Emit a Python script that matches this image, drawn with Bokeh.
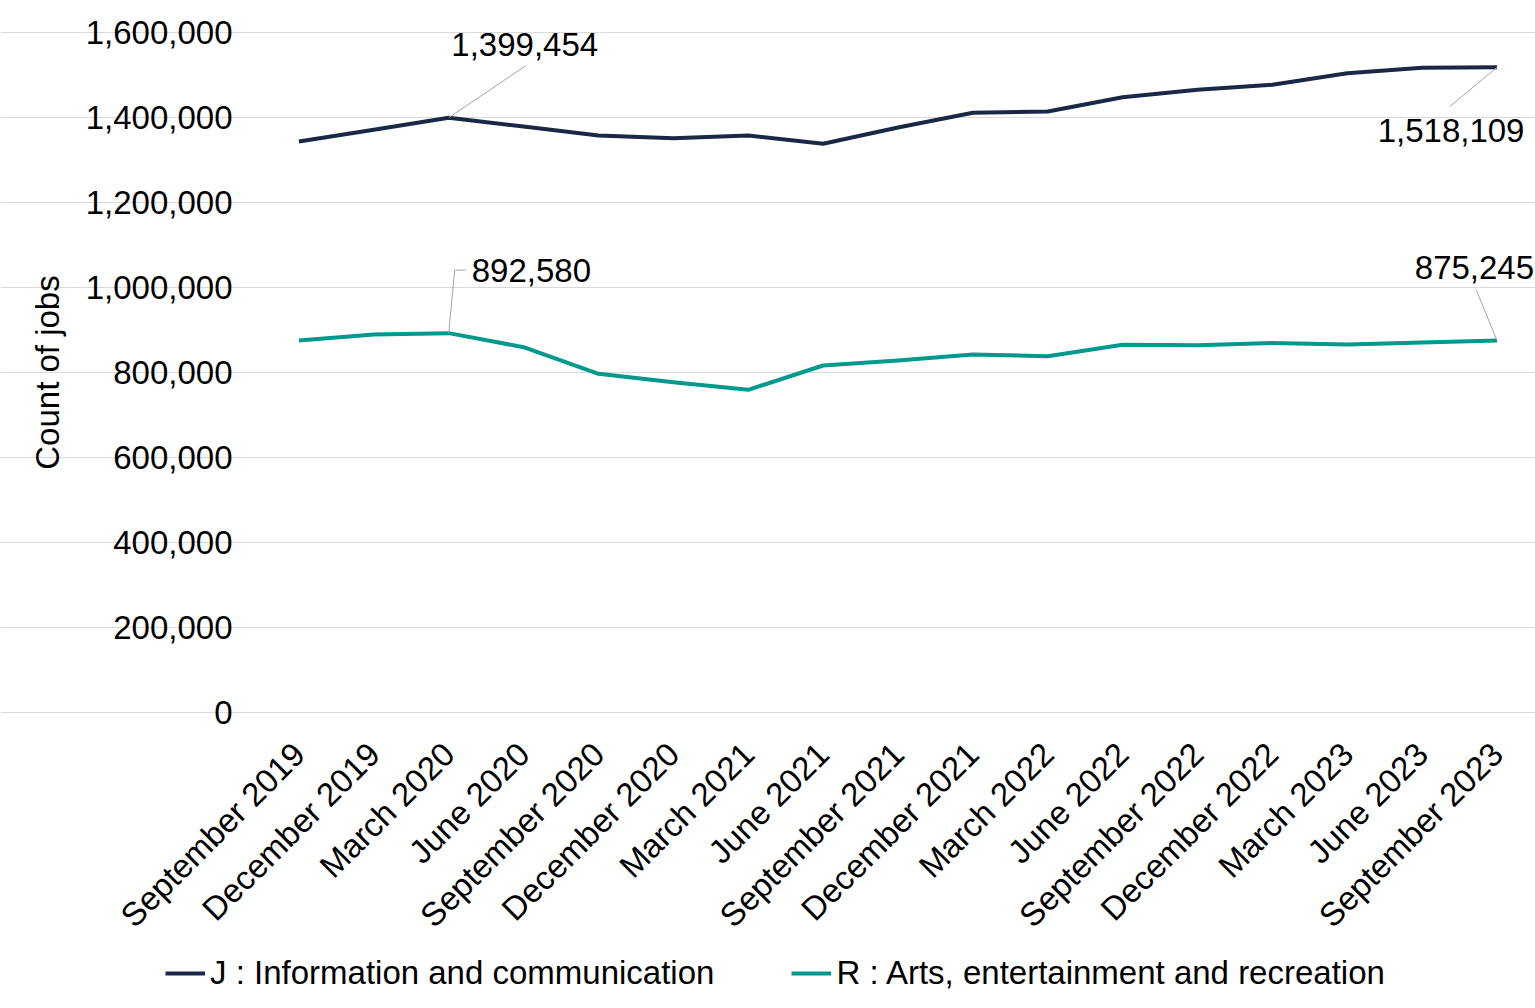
import math
from bokeh.plotting import figure
from bokeh.models import (ColumnDataSource, FixedTicker, Legend, LegendItem,
                          Range1d)
from bokeh.embed import file_html
from bokeh.resources import INLINE
from bokeh.core.properties import value

# ---------------- data ----------------
quarters = ["September 2019", "December 2019", "March 2020", "June 2020",
            "September 2020", "December 2020", "March 2021", "June 2021",
            "September 2021", "December 2021", "March 2022", "June 2022",
            "September 2022", "December 2022", "March 2023", "June 2023",
            "September 2023"]
info_comm = [1343500, 1371000, 1399454, 1378800, 1357600, 1351300, 1357600,
             1338100, 1376500, 1411000, 1414100, 1447800, 1465100, 1477000,
             1504300, 1516900, 1518109]
arts_rec = [875300, 889400, 892580, 859600, 796900, 777300, 759200,
            816500, 828200, 842400, 838400, 865100, 864400, 869400,
            865900, 870600, 875245]
y_ticks = [0, 200000, 400000, 600000, 800000, 1000000, 1200000, 1400000, 1600000]
y_title = "Count of jobs"
series_names = ["J : Information and communication",
                "R : Arts, entertainment and recreation"]
series_colors = ["#1b2845", "#00998c"]

FONT = "Liberation Sans"
FS = "33px"
TXT = "#000000"

# ---------------- layout (pixels) ----------------
n = len(quarters)
idx = list(range(n))
PLOT_W, PLOT_H = 1273, 680     # data band
LEFT, RIGHT = 261, 1           # space left / right of the data band
TOP, BELOW = 32, 296           # space above / below the data band
Y_MAX = y_ticks[-1]
PX_X = PLOT_W / n
PX_Y = PLOT_H / Y_MAX

X0, X1 = -0.5, n - 0.5
p = figure(frame_width=LEFT + PLOT_W + RIGHT, frame_height=TOP + PLOT_H + BELOW,
           x_range=Range1d(X0 - LEFT / PX_X, X1 + RIGHT / PX_X),
           y_range=Range1d(y_ticks[0] - BELOW / PX_Y, Y_MAX + TOP / PX_Y),
           x_axis_location=None, y_axis_location=None,
           output_backend="svg", toolbar_location=None,
           min_border_left=0, min_border_right=0,
           min_border_top=0, min_border_bottom=0,
           background_fill_color="white", border_fill_color="white")
p.outline_line_color = None

p.xgrid.grid_line_color = None
p.ygrid.ticker = FixedTicker(ticks=y_ticks)
p.ygrid.bounds = (X0, X1)
p.ygrid.grid_line_color = "#d9d9d9"
p.ygrid.grid_line_width = 1

text_style = dict(text_font=value(FONT), text_font_size=FS, text_color=TXT)

# y tick labels
p.text(x=[X0 - 29 / PX_X] * len(y_ticks), y=y_ticks,
       text=[f"{t:,}" for t in y_ticks],
       text_align="right", text_baseline="middle", **text_style)

# y axis title
p.text(x=[X0 - (LEFT - 47) / PX_X], y=[(y_ticks[0] + Y_MAX) / 2],
       text=[y_title], angle=math.pi / 2,
       text_align="center", text_baseline="middle", **text_style)

# category labels, rotated 45 degrees
p.text(x=idx, y=[y_ticks[0] - 36 / PX_Y] * n, text=quarters,
       angle=math.pi / 4, text_align="right", text_baseline="middle",
       **text_style)

# lines
src = ColumnDataSource(dict(x=idx, j=info_comm, r=arts_rec))
rj = p.line("x", "j", source=src, line_color=series_colors[0], line_width=4,
            line_join="round")
rr = p.line("x", "r", source=src, line_color=series_colors[1], line_width=4,
            line_join="round")


def off(i, v, dx, dy):
    """data point shifted by dx (right) / dy (up) pixels"""
    return i + dx / PX_X, v + dy / PX_Y


# data labels with leader lines
callouts = [
    # (index, series values, leader pixel path, label pixel pos, align)
    (2, info_comm, [(0, 0), (77, 52)], (76, 73), "center"),
    (n - 1, info_comm, [(0, 0), (-47, -39)], (-46, -63), "center"),
    (2, arts_rec, [(0, 0), (6, 63), (17, 63)], (23, 63), "left"),
    (n - 1, arts_rec, [(0, 0), (-21, 51)], (37, 73), "right"),
]
lx, ly, tx, ty, tt, ta = [], [], [], [], [], []
for i, vals, path, lab, align in callouts:
    v = vals[i]
    pts = [off(i, v, dx, dy) for dx, dy in path]
    lx.append([q[0] for q in pts])
    ly.append([q[1] for q in pts])
    x_, y_ = off(i, v, *lab)
    tx.append(x_)
    ty.append(y_)
    tt.append(f"{v:,}")
    ta.append(align)

p.multi_line(lx, ly, line_color="#a6a6a6", line_width=1)
p.text(x=tx, y=ty, text=tt, text_align=ta, text_baseline="middle",
       **text_style)

legend = Legend(items=[LegendItem(label=series_names[0], renderers=[rj]),
                       LegendItem(label=series_names[1], renderers=[rr])],
                orientation="horizontal", location=(165, 16),
                border_line_color=None, background_fill_alpha=0,
                padding=0, spacing=77, margin=0, label_standoff=5,
                glyph_width=40, glyph_height=20,
                label_text_font=FONT, label_text_font_size=FS,
                label_text_color=TXT)
p.add_layout(legend, "center")

open("out.html", "w").write(file_html(p, INLINE))
